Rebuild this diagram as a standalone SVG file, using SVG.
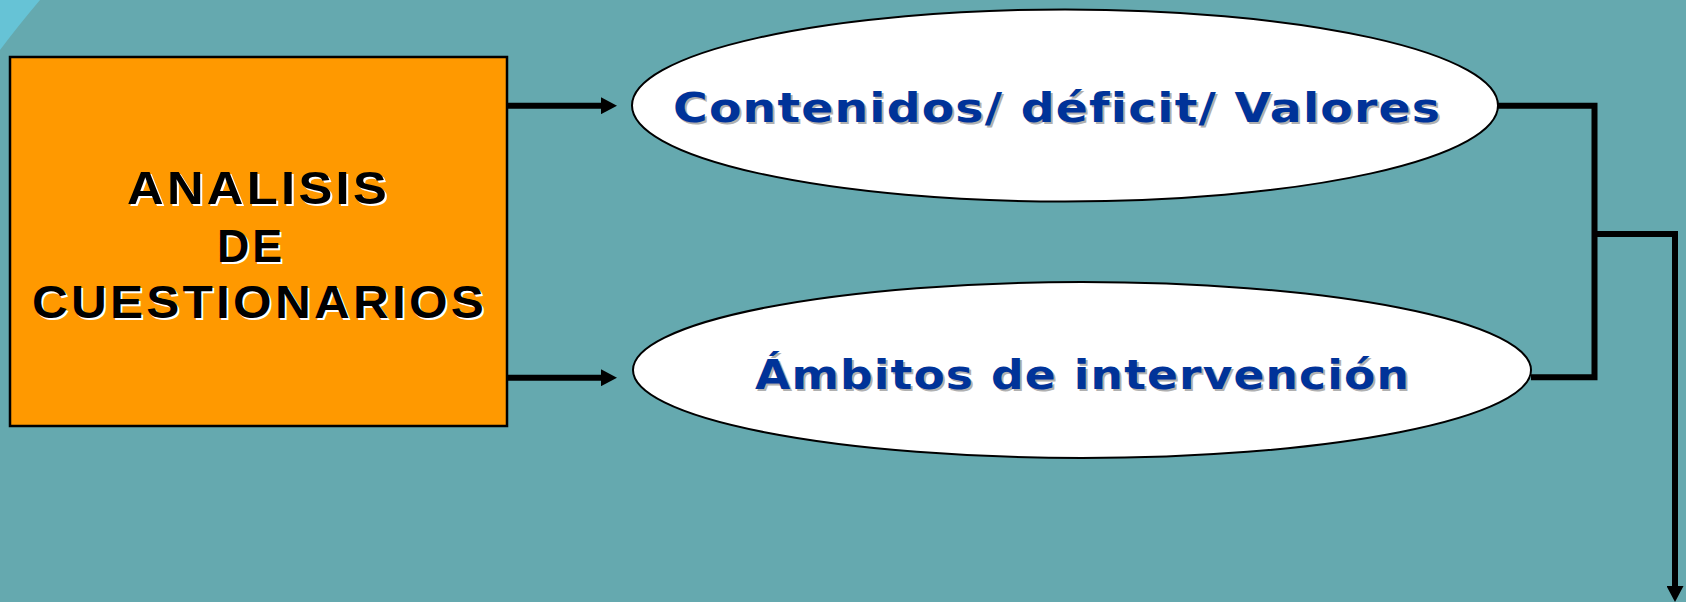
<svg xmlns="http://www.w3.org/2000/svg" width="1686" height="602" viewBox="0 0 1686 602">
  <style>
    .conn { fill: none; stroke: #000; stroke-width: 6; stroke-linejoin: miter; }
    .box { fill: #FF9900; stroke: #000; stroke-width: 2.5; }
    .oval { fill: #FFFFFF; stroke: #000; stroke-width: 2; }
    .bt { font-family: "Liberation Sans", Arial, sans-serif; font-weight: bold; font-size: 46px; letter-spacing: 3px; }
    .ot { font-family: "DejaVu Sans", Verdana, sans-serif; font-weight: bold; font-size: 40px; letter-spacing: 1px; }
  </style>
  <defs>
    <marker id="ah" markerUnits="userSpaceOnUse" markerWidth="17" markerHeight="17" refX="0" refY="8.5" orient="auto">
      <path d="M0,0 L16,8.5 L0,17 Z" fill="#000"/>
    </marker>
  </defs>
  <rect x="0" y="0" width="1686" height="602" fill="#65A9AF"/>
  <path d="M0,0 L40,0 Q18,26 0,50 Z" fill="#66C3D6"/>

  <g id="connectors">
    <line class="conn" x1="507" y1="105.7" x2="601" y2="105.7" marker-end="url(#ah)"/>
    <line class="conn" x1="507" y1="377.7" x2="601" y2="377.7" marker-end="url(#ah)"/>
    <path class="conn" d="M1498,105.7 H1594.5 V377.3 H1531"/>
    <path class="conn" d="M1594.5,234 H1675 V586" marker-end="url(#ah)"/>
  </g>

  <g id="node-analisis">
    <rect class="box" x="10" y="57" width="497" height="369"/>
    <g class="bt" fill="#FFFFFF">
      <text x="129" y="206" textLength="263" lengthAdjust="spacingAndGlyphs">ANALISIS</text>
      <text x="219" y="264" textLength="68" lengthAdjust="spacingAndGlyphs">DE</text>
      <text x="34" y="320" textLength="455" lengthAdjust="spacingAndGlyphs">CUESTIONARIOS</text>
    </g>
    <g class="bt" fill="#000000">
      <text x="127" y="204" textLength="263" lengthAdjust="spacingAndGlyphs">ANALISIS</text>
      <text x="217" y="262" textLength="68" lengthAdjust="spacingAndGlyphs">DE</text>
      <text x="32" y="318" textLength="455" lengthAdjust="spacingAndGlyphs">CUESTIONARIOS</text>
    </g>
  </g>

  <g id="node-contenidos">
    <ellipse class="oval" cx="1065" cy="105.5" rx="433" ry="96"/>
    <text class="ot" x="675" y="124" fill="#B0B0B0" textLength="768" lengthAdjust="spacingAndGlyphs">Contenidos/ déficit/ Valores</text>
    <text class="ot" x="673" y="122" fill="#003399" textLength="768" lengthAdjust="spacingAndGlyphs">Contenidos/ déficit/ Valores</text>
  </g>

  <g id="node-ambitos">
    <ellipse class="oval" cx="1082" cy="370" rx="449" ry="88"/>
    <text class="ot" x="757" y="391" fill="#B0B0B0" textLength="655" lengthAdjust="spacingAndGlyphs">Ámbitos de intervención</text>
    <text class="ot" x="755" y="389" fill="#003399" textLength="655" lengthAdjust="spacingAndGlyphs">Ámbitos de intervención</text>
  </g>
</svg>
